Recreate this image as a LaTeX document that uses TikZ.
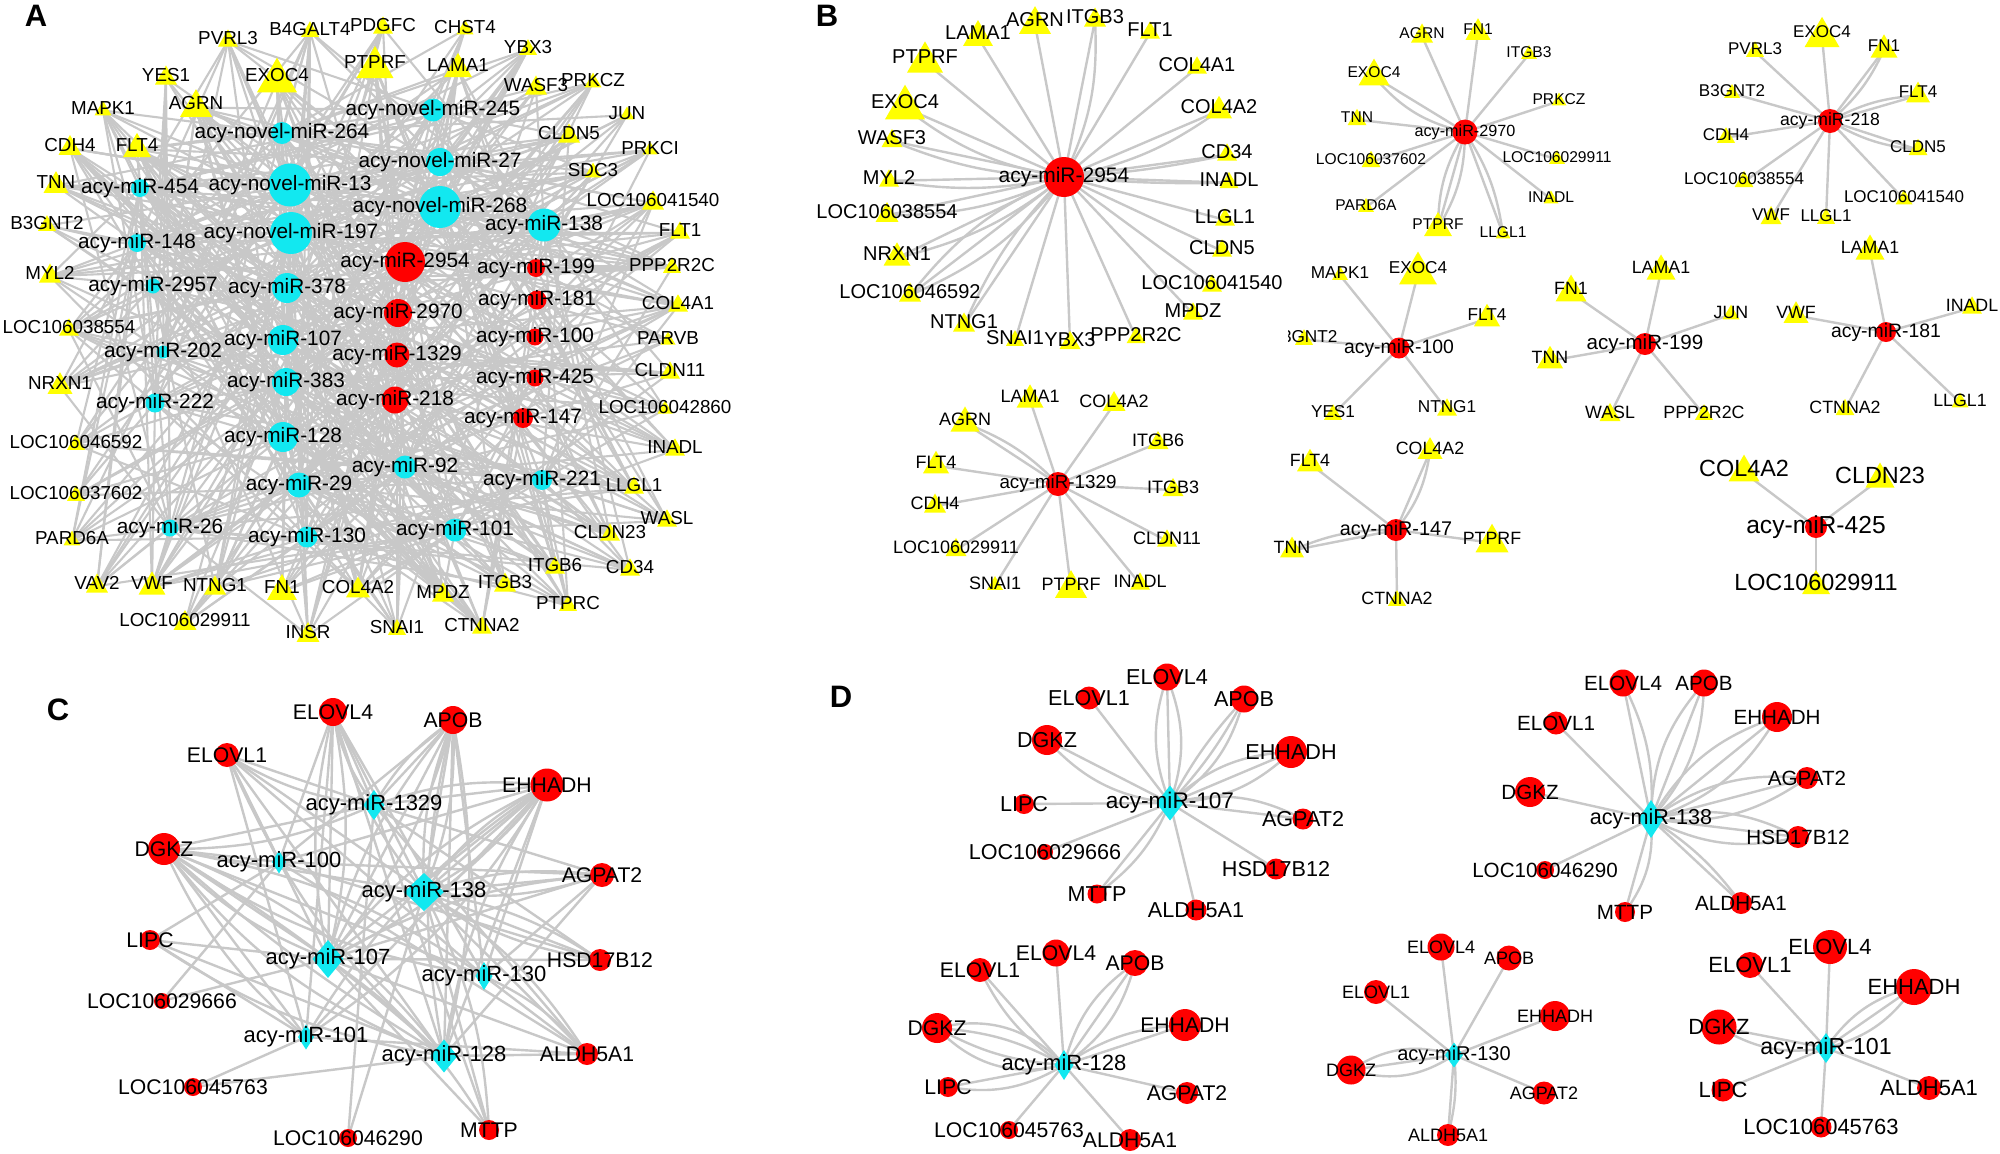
\documentclass[tikz,border=0pt]{standalone}
\usepackage{fontspec}
\setmainfont{Liberation Sans}
\usetikzlibrary{shapes.geometric}
\pgfdeclarelayer{back}
\pgfdeclarelayer{edges}
\pgfsetlayers{back,edges,main}
\definecolor{ye}{RGB}{255,255,0}
\definecolor{rd}{RGB}{255,0,0}
\definecolor{cy}{RGB}{18,232,240}
\definecolor{eg}{RGB}{200,200,200}
\newcommand\fs[1]{\fontsize{#1}{#1}\selectfont}
\newcommand\ME[3]{\foreach \bb in #3 {\draw[ed] (#1.center) to[bend left=\bb] (#2.center);}}
\newcommand\Star[3]{\foreach \gn/\bl in {#3} {\ME{#1}{#2\gn}{\bl}}}
\def\Agenes{PVRL3,B4GALT4,PDGFC,CHST4,PTPRF,EXOC4,LAMA1,YBX3,YES1,WASF3,PRKCZ,AGRN,MAPK1,JUN,CLDN5,CDH4,FLT4,PRKCI,SDC3,TNN,LOC106041540,B3GNT2,FLT1,MYL2,PPP2R2C,COL4A1,LOC106038554,PARVB,NRXN1,CLDN11,LOC106042860,LOC106046592,INADL,LOC106037602,LLGL1,WASL,PARD6A,CLDN23,VAV2,VWF,NTNG1,FN1,COL4A2,ITGB6,CD34,ITGB3,MPDZ,PTPRC,LOC106029911,INSR,SNAI1,CTNNA2}
\begin{document}
\begin{tikzpicture}[x=0.5pt,y=-0.5pt,
 ed/.style={draw=eg,line width=1.2pt},
 edA/.style={draw=eg,line width=1.05pt},
 gl/.style={font=\fs{9.4}}, ml/.style={font=\fs{10.4}},
 tg/.style 2 args={regular polygon, regular polygon sides=3, fill=ye, draw=none, inner sep=0pt, outer sep=0pt, minimum size={(#1)*0.577pt}, yshift={-(#1)*0.072pt}, label={[gl,inner sep=0pt,yshift={(#1)*0.072pt}]center:#2}},
 gc/.style 2 args={circle, fill=rd, draw=none, inner sep=0pt, outer sep=0pt, minimum size={(#1)*0.5pt}, label={[gl,inner sep=0pt]center:#2}},
 mc/.style n args={3}{circle, fill=#1, draw=none, inner sep=0pt, outer sep=0pt, minimum size={(#2)*0.5pt}, label={[ml,inner sep=0pt]center:#3}},
 md/.style n args={3}{diamond, fill=cy, draw=none, inner sep=0pt, outer sep=0pt, minimum width={(#1)*0.5pt}, minimum height={(#2)*0.5pt}, label={[ml,inner sep=0pt]center:#3}},
 pl/.style={font=\bfseries\fs{15.5}, inner sep=0pt}]
\begin{pgfonlayer}{back}\fill[white] (0,0) rectangle (2000,1153);\end{pgfonlayer}
\useasboundingbox (0,0) rectangle (2000,1153);
% panel letters
\node[pl] (lA) at (36,16) {A};
\node[pl] (lB) at (827,16) {B};
\node[pl] (lC) at (58,710) {C};
\node[pl] (lD) at (841,697) {D};
% ================= Panel A =================
\begin{scope}[gl/.style={font=\fs{9.4}}, ml/.style={font=\fs{10.4}}]
\foreach \nm/\x/\y/\w in {PVRL3/228/38/20, B4GALT4/310/29/18, PDGFC/383/25/20, CHST4/465/27/17, PTPRF/375/62/37, EXOC4/277/75/40, LAMA1/458/65/28, YBX3/528/47/18, YES1/166/75/22, WASF3/536/85/22, PRKCZ/593/80/17, AGRN/196/103/32, MAPK1/103/108/17, JUN/627/113/15, CLDN5/569/133/22, CDH4/70/145/23, FLT4/137/145/28, PRKCI/650/148/15, SDC3/593/170/17, TNN/56/182/25, LOC106041540/653/200/22, B3GNT2/47/223/18, FLT1/680/230/20, MYL2/50/273/22, PPP2R2C/672/265/18, COL4A1/678/303/20, LOC106038554/69/327/20, PARVB/668/338/15, NRXN1/60/383/25, CLDN11/670/370/20, LOC106042860/665/407/15, LOC106046592/76/442/18, INADL/675/447/20, LOC106037602/76/493/18, LLGL1/634/485/20, WASL/667/518/20, PARD6A/72/538/17, CLDN23/610/532/20, VAV2/97/583/22, VWF/152/583/27, NTNG1/215/585/22, FN1/282/587/30, COL4A2/358/587/24, ITGB6/555/565/20, CD34/630/567/20, ITGB3/505/582/22, MPDZ/443/592/22, PTPRC/568/603/18, LOC106029911/185/620/23, INSR/308/632/23, SNAI1/397/627/18, CTNNA2/482/625/20}
  \node[tg={\w}{\nm}] (a\nm) at (\x,\y) {};
\foreach \nm/\x/\y/\dd/\cl/\tx in {n264/282/133/22/cy/acy-novel-miR-264, n13/290/185/43/cy/acy-novel-miR-13, n197/291/233/42/cy/acy-novel-miR-197, n245/433/110/23/cy/acy-novel-miR-245, n27/440/162/28/cy/acy-novel-miR-27, n268/440/207/42/cy/acy-novel-miR-268, m454/140/188/18/cy/acy-miR-454, m148/137/243/18/cy/acy-miR-148, m2957/153/286/15/cy/acy-miR-2957, m378/287/288/30/cy/acy-miR-378, m138/544/225/33/cy/acy-miR-138, m107/283/340/30/cy/acy-miR-107, m202/163/352/13/cy/acy-miR-202, m383/286/382/28/cy/acy-miR-383, m222/155/403/19/cy/acy-miR-222, m128/283/437/30/cy/acy-miR-128, m29/299/485/25/cy/acy-miR-29, m26/170/528/17/cy/acy-miR-26, m130/307/537/21/cy/acy-miR-130, m92/405/467/23/cy/acy-miR-92, m221/542/480/20/cy/acy-miR-221, m101/455/530/23/cy/acy-miR-101, m2954/405/262/40/rd/acy-miR-2954, m2970/398/313/28/rd/acy-miR-2970, m199/536/268/18/rd/acy-miR-199, m181/537/300/19/rd/acy-miR-181, m1329/397/355/25/rd/acy-miR-1329, m218/395/400/27/rd/acy-miR-218, m100/535/337/17/rd/acy-miR-100, m425/535/378/17/rd/acy-miR-425, m147/523/418/20/rd/acy-miR-147}
  \node[mc={\cl}{\dd}{\tx}] (a\nm) at (\x,\y) {};
\end{scope}
% ================= Panel B =================
\begin{scope}[gl/.style={font=\fs{10}}, ml/.style={font=\fs{10.5}}]
\node[mc={rd}{40}{acy-miR-2954}] (b1c) at (1064,177) {};
\foreach \nm/\x/\y/\w in {LAMA1/978/33/30, AGRN/1035/20/32, ITGB3/1095/17/22, FLT1/1150/30/20, PTPRF/925/57/36, COL4A1/1197/65/20, EXOC4/905/102/40, COL4A2/1219/107/26, WASF3/892/138/21, CD34/1227/152/20, MYL2/889/178/20, INADL/1229/180/19, LOC106038554/887/212/23, LLGL1/1225/217/20, NRXN1/897/254/27, CLDN5/1222/248/20, LOC106046592/910/292/22, LOC106041540/1212/283/20, MPDZ/1193/311/20, NTNG1/964/322/22, SNAI1/1015/338/18, YBX3/1070/340/21, PPP2R2C/1136/335/19}
  \node[tg={\w}{\nm}] (b1\nm) at (\x,\y) {};
\end{scope}
\begin{scope}[gl/.style={font=\fs{7.8}}, ml/.style={font=\fs{8.1}}]
\node[mc={rd}{25}{acy-miR-2970}] (b2c) at (1465,132) {};
\foreach \nm/\x/\y/\w in {AGRN/1422/33/22, FN1/1478/29/25, ITGB3/1529/52/16, EXOC4/1374/72/31, PRKCZ/1559/99/15, TNN/1357/117/19, LOC106037602/1371/159/19, LOC106029911/1557/157/16, INADL/1551/197/15, PARD6A/1366/205/16, PTPRF/1438/224/28, LLGL1/1503/232/15}
  \node[tg={\w}{\nm}] (b2\nm) at (\x,\y) {};
\end{scope}
\begin{scope}[gl/.style={font=\fs{8.5}}, ml/.style={font=\fs{8.8}}]
\node[mc={rd}{24}{acy-miR-218}] (b3c) at (1830,121) {};
\foreach \nm/\x/\y/\w in {PVRL3/1755/49/18, EXOC4/1822/32/35, FN1/1884/46/27, B3GNT2/1732/91/16, FLT4/1918/92/24, CDH4/1726/135/18, CLDN5/1918/147/19, LOC106038554/1744/179/19, LOC106041540/1904/197/17, VWF/1771/215/21, LLGL1/1826/216/18}
  \node[tg={\w}{\nm}] (b3\nm) at (\x,\y) {};
\end{scope}
\begin{scope}[gl/.style={font=\fs{8.6}}, ml/.style={font=\fs{9.7}}]
\node[mc={rd}{21}{acy-miR-100}] (b4c) at (1399,348) {};
\foreach \nm/\x/\y/\w in {MAPK1/1340/273/16, EXOC4/1418/268/38, FLT4/1487/315/26, YES1/1333/412/18, NTNG1/1447/407/20}
  \node[tg={\w}{\nm}] (b4\nm) at (\x,\y) {};
\begin{scope}
\clip (1288,300) rectangle (1350,380);
\node[tg={18}{B3GNT2}] (b4B3GNT2) at (1304,337) {};
\end{scope}
\end{scope}
\begin{scope}[gl/.style={font=\fs{8.9}}, ml/.style={font=\fs{10.3}}]
\node[mc={rd}{22}{acy-miR-199}] (b5c) at (1645,344) {};
\foreach \nm/\x/\y/\w in {FN1/1571/288/31, LAMA1/1661/267/29, JUN/1731/312/17, TNN/1550/357/26, WASL/1610/412/21, PPP2R2C/1704/412/18}
  \node[tg={\w}{\nm}] (b5\nm) at (\x,\y) {};
\end{scope}
\begin{scope}[gl/.style={font=\fs{8.9}}, ml/.style={font=\fs{9.7}}]
\node[mc={rd}{20}{acy-miR-181}] (b6c) at (1886,332) {};
\foreach \nm/\x/\y/\w in {LAMA1/1870/247/29, VWF/1796/312/25, INADL/1972/305/20, CTNNA2/1845/407/19, LLGL1/1960/400/17}
  \node[tg={\w}{\nm}] (b6\nm) at (\x,\y) {};
\end{scope}
\begin{scope}[gl/.style={font=\fs{9}}, ml/.style={font=\fs{9.4}}]
\node[mc={rd}{24}{acy-miR-1329}] (b7c) at (1058,484) {};
\foreach \nm/\x/\y/\w in {LAMA1/1030/396/27, COL4A2/1114/401/23, AGRN/965/419/29, ITGB6/1158/440/21, FLT4/936/462/26, ITGB3/1173/487/21, CDH4/935/503/22, CLDN11/1167/538/20, LOC106029911/956/547/21, SNAI1/995/583/16, PTPRF/1071/584/32, INADL/1140/581/20}
  \node[tg={\w}{\nm}] (b7\nm) at (\x,\y) {};
\end{scope}
\begin{scope}[gl/.style={font=\fs{8.9}}, ml/.style={font=\fs{9.9}}]
\node[mc={rd}{22}{acy-miR-147}] (b8c) at (1396,530) {};
\foreach \nm/\x/\y/\w in {COL4A2/1430/448/25, FLT4/1310/460/26, TNN/1292/547/24, PTPRF/1492/538/33, CTNNA2/1397/598/18}
  \node[tg={\w}{\nm}] (b8\nm) at (\x,\y) {};
\end{scope}
\begin{scope}[gl/.style={font=\fs{11.7}}, ml/.style={font=\fs{12.3}}]
\node[mc={rd}{22}{acy-miR-425}] (b9c) at (1816,527) {};
\foreach \nm/\x/\y/\w in {COL4A2/1744/468/31, CLDN23/1880/475/29, LOC106029911/1816/582/28}
  \node[tg={\w}{\nm}] (b9\nm) at (\x,\y) {};
\end{scope}
% ================= Panel C =================
\begin{scope}[gl/.style={font=\fs{10.6}}, ml/.style={font=\fs{11}}]
\foreach \nm/\x/\y/\dd in {ELOVL4/333/712/28, APOB/453/720/28, ELOVL1/227/755/24, EHHADH/547/785/33, DGKZ/164/849/32, AGPAT2/602/875/24, LIPC/150/940/20, HSD17B12/600/960/22, LOC106029666/162/1001/16, ALDH5A1/587/1054/22, LOC106045763/193/1087/18, LOC106046290/348/1138/18, MTTP/489/1130/20}
  \node[gc={\dd}{\nm}] (c\nm) at (\x,\y) {};
\foreach \nm/\x/\y/\w/\h in {1329/374/805/21/30, 100/279/862/14/23, 138/424/892/40/38, 107/328/959/31/38, 130/484/976/17/28, 101/306/1037/16/25, 128/444/1056/27/33}
  \node[md={\w}{\h}{acy-miR-\nm}] (c\nm) at (\x,\y) {};
\end{scope}
% ================= Panel D =================
\begin{scope}[gl/.style={font=\fs{10.8}}, ml/.style={font=\fs{11.3}}]
\node[md={27}{35}{acy-miR-107}] (d1c) at (1170,803) {};
\foreach \nm/\x/\y/\dd in {ELOVL4/1167/677/27, ELOVL1/1089/698/23, APOB/1244/699/27, DGKZ/1047/740/30, EHHADH/1291/752/32, LIPC/1024/804/20, AGPAT2/1303/819/21, LOC106029666/1045/852/16, HSD17B12/1276/869/21, MTTP/1097/894/19, ALDH5A1/1196/910/21}
  \node[gc={\dd}{\nm}] (d1\nm) at (\x,\y) {};
\end{scope}
\begin{scope}[gl/.style={font=\fs{10.3}}, ml/.style={font=\fs{10.8}}]
\node[md={25}{38}{acy-miR-138}] (d2c) at (1651,819) {};
\foreach \nm/\x/\y/\dd in {ELOVL4/1623/683/27, APOB/1704/683/27, ELOVL1/1556/723/23, EHHADH/1777/717/30, AGPAT2/1807/778/22, DGKZ/1530/792/30, HSD17B12/1798/837/22, LOC106046290/1545/870/18, ALDH5A1/1741/903/22, MTTP/1625/912/20}
  \node[gc={\dd}{\nm}] (d2\nm) at (\x,\y) {};
\end{scope}
\begin{scope}[gl/.style={font=\fs{10.6}}, ml/.style={font=\fs{11}}]
\node[md={19}{30}{acy-miR-128}] (d3c) at (1064,1065) {};
\foreach \nm/\x/\y/\dd in {ELOVL4/1056/953/27, ELOVL1/980/970/24, APOB/1135/963/26, DGKZ/937/1028/30, EHHADH/1185/1025/32, LIPC/948/1087/20, AGPAT2/1187/1093/22, LOC106045763/1009/1130/18, ALDH5A1/1130/1140/22}
  \node[gc={\dd}{\nm}] (d3\nm) at (\x,\y) {};
\end{scope}
\begin{scope}[gl/.style={font=\fs{9}}, ml/.style={font=\fs{10}}]
\node[md={18}{25}{acy-miR-130}] (d4c) at (1454,1055) {};
\foreach \nm/\x/\y/\dd in {ELOVL4/1441/947/27, APOB/1509/958/25, ELOVL1/1376/992/24, EHHADH/1555/1016/30, DGKZ/1351/1070/29, AGPAT2/1544/1093/23, ALDH5A1/1448/1135/22}
  \node[gc={\dd}{\nm}] (d4\nm) at (\x,\y) {};
\end{scope}
\begin{scope}[gl/.style={font=\fs{11}}, ml/.style={font=\fs{11.6}}]
\node[md={21}{30}{acy-miR-101}] (d5c) at (1826,1048) {};
\foreach \nm/\x/\y/\dd in {ELOVL4/1830/947/34, ELOVL1/1750/965/26, EHHADH/1914/987/36, DGKZ/1719/1027/35, LIPC/1723/1090/23, ALDH5A1/1929/1088/24, LOC106045763/1821/1127/21}
  \node[gc={\dd}{\nm}] (d5\nm) at (\x,\y) {};
\end{scope}
% ================= Edges =================
\begin{pgfonlayer}{edges}
% panel A, cyan miRNAs
\foreach \m [count=\ii] in {n264,n13,n197,n245,n27,n268,m454,m148,m2957,m378,m138,m107,m202,m383,m222,m128,m29,m26,m130,m92,m221,m101} {
  \foreach \gn [count=\jj] in \Agenes {
    \pgfmathtruncatemacro\hh{mod(mod(\ii*\ii*13,97)+mod(\jj*\jj*3,97)+mod(\ii*\jj*5,97)+\jj*29+\ii*11,97)}
    \ifnum\hh<36 \draw[edA] (a\m.center) -- (a\gn.center);\fi
  }
}
% panel A, red miRNAs
\foreach \m/\lst in {m2954/{LAMA1,AGRN,ITGB3,FLT1,PTPRF,COL4A1,EXOC4,COL4A2,WASF3,CD34,MYL2,INADL,LOC106038554,LLGL1,NRXN1,CLDN5,LOC106046592,LOC106041540,MPDZ,NTNG1,SNAI1,YBX3,PPP2R2C}, m2970/{AGRN,FN1,ITGB3,EXOC4,PRKCZ,TNN,LOC106037602,LOC106029911,INADL,PARD6A,PTPRF,LLGL1}, m218/{PVRL3,EXOC4,FN1,B3GNT2,FLT4,CDH4,CLDN5,LOC106038554,LOC106041540,VWF,LLGL1}, m100/{MAPK1,EXOC4,FLT4,B3GNT2,YES1,NTNG1}, m199/{FN1,LAMA1,JUN,TNN,WASL,PPP2R2C}, m181/{LAMA1,VWF,INADL,CTNNA2,LLGL1}, m1329/{LAMA1,COL4A2,AGRN,ITGB6,FLT4,ITGB3,CDH4,CLDN11,LOC106029911,SNAI1,PTPRF,INADL}, m147/{COL4A2,FLT4,TNN,PTPRF,CTNNA2}, m425/{COL4A2,CLDN23,LOC106029911}} {
  \foreach \gn in \lst {\draw[edA] (a\m.center) -- (a\gn.center);}
}
% panel B
\Star{b1c}{b1}{LAMA1/0, AGRN/0, ITGB3/{0,-14}, FLT1/0, PTPRF/0, COL4A1/0, EXOC4/{0,14}, COL4A2/{0,-12}, WASF3/{0,10}, CD34/{0,-4}, MYL2/{0,10}, INADL/{0,-3}, LOC106038554/{0,12}, LLGL1/0, NRXN1/{0,12}, CLDN5/0, LOC106046592/{0,-14,14}, LOC106041540/0, MPDZ/0, NTNG1/{0,-10}, SNAI1/0, YBX3/0, PPP2R2C/0}
\Star{b2c}{b2}{AGRN/0, FN1/0, ITGB3/0, EXOC4/{0,18}, PRKCZ/0, TNN/0, LOC106037602/0, LOC106029911/0, INADL/0, PARD6A/0, PTPRF/{0,-15,15}, LLGL1/{0,12}}
\Star{b3c}{b3}{PVRL3/0, EXOC4/0, FN1/{0,-12}, B3GNT2/0, FLT4/{0,12}, CDH4/0, CLDN5/{0,-12}, LOC106038554/0, LOC106041540/0, VWF/0, LLGL1/0}
\Star{b4c}{b4}{MAPK1/0, EXOC4/0, FLT4/0, B3GNT2/0, YES1/0, NTNG1/0}
\Star{b5c}{b5}{FN1/0, LAMA1/0, JUN/0, TNN/0, WASL/0, PPP2R2C/0}
\Star{b6c}{b6}{LAMA1/0, VWF/0, INADL/0, CTNNA2/0, LLGL1/0}
\Star{b7c}{b7}{LAMA1/0, COL4A2/0, AGRN/{0,-12}, ITGB6/0, FLT4/0, ITGB3/0, CDH4/0, CLDN11/0, LOC106029911/0, SNAI1/0, PTPRF/0, INADL/0}
\Star{b8c}{b8}{COL4A2/{0,-15}, FLT4/0, TNN/{0,-12}, PTPRF/0, CTNNA2/0}
\Star{b9c}{b9}{COL4A2/0, CLDN23/0, LOC106029911/0}
% panel C
\Star{c107}{c}{ELOVL1/0, ELOVL4/{-12,0,12}, APOB/{-12,0,12}, DGKZ/{0,12}, EHHADH/{-12,0,12}, LIPC/0, AGPAT2/{0,12}, LOC106029666/0, MTTP/{0,12}, HSD17B12/0, ALDH5A1/0}
\Star{c138}{c}{ELOVL4/{0,12}, APOB/{-12,0,12}, ELOVL1/0, DGKZ/0, EHHADH/{-12,0,12}, AGPAT2/{-12,0,12}, HSD17B12/{-12,0,12}, LOC106046290/0, MTTP/{0,12}, ALDH5A1/{0,12}}
\Star{c128}{c}{ELOVL1/{0,12}, ELOVL4/0, APOB/{-12,0,12}, DGKZ/{-15,-5,5,15}, EHHADH/{0,12}, LIPC/{0,12}, AGPAT2/0, LOC106045763/0, ALDH5A1/0}
\Star{c130}{c}{ELOVL4/0, APOB/0, ELOVL1/0, EHHADH/0, DGKZ/{-12,0,12}, AGPAT2/0, ALDH5A1/{0,12}}
\Star{c101}{c}{ELOVL1/0, ELOVL4/0, EHHADH/{-12,0,12}, DGKZ/{0,12}, LIPC/0, ALDH5A1/0, LOC106045763/0}
\Star{c1329}{c}{ELOVL4/{0,12}, APOB/{0,12}, ELOVL1/{0,12}, EHHADH/{0,12}, DGKZ/{0,12}, AGPAT2/0, HSD17B12/0, ALDH5A1/0, MTTP/0, LOC106046290/0}
\Star{c100}{c}{ELOVL4/0, APOB/0, ELOVL1/0, DGKZ/0, EHHADH/0, AGPAT2/0, LIPC/0, HSD17B12/0, ALDH5A1/0, LOC106029666/0}
% panel D
\Star{d1c}{d1}{ELOVL1/0, ELOVL4/{-20,0,20}, APOB/{-20,-7,7}, DGKZ/{0,20}, EHHADH/{-20,0,20}, LIPC/0, AGPAT2/{0,20}, LOC106029666/0, MTTP/{0,15}, HSD17B12/0, ALDH5A1/0}
\Star{d2c}{d2}{ELOVL4/{-15,0}, APOB/{-20,0,20}, ELOVL1/0, DGKZ/0, EHHADH/{-20,0,20}, AGPAT2/{-20,0,20}, HSD17B12/{-20,0,20}, LOC106046290/0, MTTP/{0,20}, ALDH5A1/{0,10}}
\Star{d3c}{d3}{ELOVL1/{0,15}, ELOVL4/0, APOB/{-20,0,20}, DGKZ/{-30,-12,12,30}, EHHADH/{0,15}, LIPC/{0,20}, AGPAT2/0, LOC106045763/0, ALDH5A1/0}
\Star{d4c}{d4}{ELOVL4/0, APOB/0, ELOVL1/0, EHHADH/0, DGKZ/{-25,0,25}, AGPAT2/0, ALDH5A1/{0,10}}
\Star{d5c}{d5}{ELOVL1/0, ELOVL4/0, EHHADH/{-20,0,20}, DGKZ/{0,20}, LIPC/0, ALDH5A1/0, LOC106045763/0}
\end{pgfonlayer}
\end{tikzpicture}
\end{document}
